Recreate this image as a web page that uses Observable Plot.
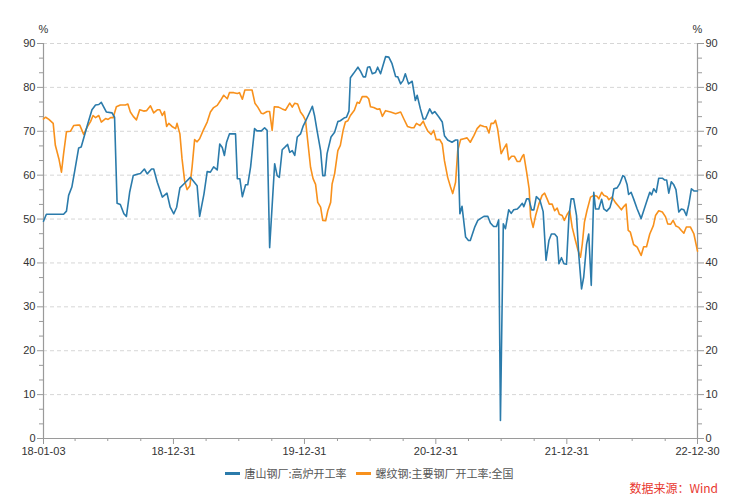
<!DOCTYPE html>
<html><head><meta charset="utf-8">
<script src="https://cdn.jsdelivr.net/npm/d3@7"></script>
<script src="https://cdn.jsdelivr.net/npm/@observablehq/plot@0.6"></script>
<style>
body{margin:0;background:#fff;font-family:"Liberation Sans",Arial,sans-serif;}
#wrap{position:relative;width:739px;height:500px;overflow:hidden;}
#legend{position:absolute;top:465px;left:0;width:739px;display:flex;justify-content:center;align-items:center;gap:10px;font-size:11px;color:#555;font-family:"Noto Sans CJK SC","Liberation Sans",sans-serif;}
#legend .item{display:flex;align-items:center;gap:4px;}
#legend .sw{display:inline-block;width:15px;height:3px;}
#source{position:absolute;top:479px;right:21px;color:#e8382f;font-size:12px;font-family:"Noto Sans CJK SC","Liberation Sans",sans-serif;}
</style></head>
<body><div id="wrap"><div id="chart"></div><div id="legend"></div><div id="source"></div></div>
<script>
const seriesNames = ["唐山钢厂:高炉开工率", "螺纹钢:主要钢厂开工率:全国"];
const seriesColors = ["#2b7bab", "#f8911c"];
const sourceText = "数据来源：Wind";
const unitLabel = "%";
const xTickDates = ["2018-01-03","2018-12-31","2019-12-31","2020-12-31","2021-12-31","2022-12-30"];
const yTicks = [0,10,20,30,40,50,60,70,80,90];

const blueDates = ["2018-01-03","2018-01-11","2018-02-28","2018-03-08","2018-03-14","2018-03-23","2018-03-31","2018-04-11","2018-04-18","2018-05-05","2018-05-18","2018-05-28","2018-06-06","2018-06-13","2018-06-27","2018-07-13","2018-07-20","2018-07-27","2018-08-05","2018-08-15","2018-08-22","2018-08-31","2018-09-10","2018-09-21","2018-09-30","2018-10-11","2018-10-19","2018-10-31","2018-11-06","2018-11-16","2018-11-30","2018-12-13","2018-12-22",
"2019-01-01","2019-01-09","2019-01-18","2019-01-29","2019-02-16","2019-03-07","2019-03-14","2019-03-26","2019-04-04","2019-04-13","2019-04-22","2019-05-02","2019-05-09","2019-05-16","2019-05-22","2019-05-28","2019-06-05","2019-06-17","2019-06-22","2019-06-27","2019-07-04","2019-07-11","2019-07-20","2019-07-26","2019-08-03","2019-08-14","2019-08-21","2019-09-02","2019-09-11","2019-09-18","2019-09-25","2019-10-09","2019-10-16","2019-10-22","2019-10-30","2019-11-08","2019-11-14","2019-11-20","2019-11-27","2019-12-04","2019-12-11","2019-12-20","2019-12-27",
"2020-01-06","2020-01-15","2020-01-22","2020-01-28","2020-02-04","2020-02-14","2020-02-20","2020-02-26","2020-03-03","2020-03-14","2020-03-24","2020-04-02","2020-04-09","2020-04-21","2020-04-26","2020-05-03","2020-05-07","2020-05-16","2020-05-28","2020-06-04","2020-06-12","2020-06-18","2020-06-24","2020-06-30","2020-07-07","2020-07-16","2020-07-22","2020-07-30","2020-08-13","2020-08-22","2020-08-31","2020-09-10","2020-09-16","2020-09-24","2020-10-01","2020-10-07","2020-10-16","2020-10-26","2020-11-04","2020-11-09","2020-11-18","2020-11-26","2020-12-02","2020-12-14","2020-12-21","2020-12-28",
"2021-01-08","2021-01-18","2021-01-24","2021-02-02","2021-02-14","2021-02-24","2021-03-02","2021-03-08","2021-03-14","2021-03-24","2021-04-01","2021-04-06","2021-04-18","2021-04-27","2021-05-04","2021-05-14","2021-05-25","2021-06-01","2021-06-10","2021-06-18","2021-06-24","2021-06-29","2021-07-07","2021-07-13","2021-07-22","2021-07-29","2021-08-05","2021-08-15","2021-08-22","2021-08-29","2021-09-02","2021-09-10","2021-09-16","2021-09-24","2021-09-30","2021-10-07","2021-10-17","2021-10-26","2021-11-03","2021-11-11","2021-11-18","2021-11-27","2021-12-04","2021-12-09","2021-12-16","2021-12-23","2021-12-30",
"2022-01-06","2022-01-12","2022-01-19","2022-01-27","2022-02-02","2022-02-10","2022-02-16","2022-02-24","2022-03-02","2022-03-09","2022-03-16","2022-03-21","2022-03-30","2022-04-07","2022-04-13","2022-04-21","2022-04-30","2022-05-06","2022-05-11","2022-05-20","2022-05-27","2022-06-05","2022-06-10","2022-06-17","2022-06-21","2022-06-28","2022-07-05","2022-07-15","2022-07-26","2022-08-02","2022-08-12","2022-08-19","2022-08-24","2022-08-30","2022-09-06","2022-09-13","2022-09-23","2022-09-29","2022-10-05","2022-10-11","2022-10-18","2022-10-25","2022-10-31","2022-11-08","2022-11-15","2022-11-22","2022-11-29","2022-12-06","2022-12-13","2022-12-20","2022-12-30"];
const blueValues = [49.5,51.1,51.1,51.8,55.4,57.3,61.0,66.2,66.4,71.3,74.9,76.0,76.1,76.6,74.4,74.2,73.2,53.6,53.3,51.2,50.6,56.1,59.9,60.2,60.4,61.4,60.3,61.4,61.4,58.4,55.0,55.9,52.7,
51.2,52.7,57.1,58.0,59.5,57.6,50.6,55.7,60.8,60.7,61.9,61.2,67.1,66.3,64.5,67.5,69.4,69.4,69.4,59.2,59.2,55.1,57.8,57.8,61.9,70.6,70.1,70.1,70.8,70.2,43.5,62.6,59.9,59.5,65.8,66.5,67.0,65.2,65.6,64.5,68.7,69.4,71.1,
72.8,74.4,75.7,73.6,70.2,65.6,59.9,59.9,64.9,68.7,69.8,72.2,72.4,73.1,73.2,74.6,82.2,83.2,84.6,83.7,82.4,82.4,84.6,84.7,83.1,83.4,84.6,83.1,87.0,86.9,85.4,82.5,82.4,80.8,81.6,83.1,80.8,81.4,77.0,78.2,75.1,72.8,72.8,75.1,74.0,74.5,
73.3,72.1,69.0,68.0,67.5,68.0,68.0,51.2,52.9,45.9,45.1,45.1,48.1,49.7,50.1,50.6,50.6,49.1,48.3,48.3,49.8,4.1,48.9,47.8,52.1,51.3,52.1,52.3,52.9,53.6,52.8,54.6,54.6,52.1,52.1,55.1,54.3,51.7,40.6,45.1,46.6,46.6,45.9,39.8,41.2,39.8,39.7,
50.8,54.6,54.6,50.8,42.1,34.1,36.8,44.3,46.6,34.9,56.1,52.3,52.3,54.5,52.3,51.8,52.6,54.4,56.9,57.1,58.0,59.9,59.6,57.8,55.6,56.1,54.6,52.3,50.1,51.9,54.4,56.1,55.5,56.9,56.1,59.3,59.3,58.9,58.9,55.9,58.5,57.8,56.7,51.6,52.3,52.1,50.8,53.4,56.9,56.4,56.4];

const orangeDates = ["2018-01-03","2018-01-09","2018-01-18","2018-01-30","2018-02-05","2018-02-15","2018-02-22","2018-02-28","2018-03-08","2018-03-19","2018-03-28","2018-04-09","2018-04-14","2018-04-25","2018-05-05","2018-05-14","2018-05-21","2018-05-28","2018-06-06","2018-06-13","2018-06-25","2018-07-02","2018-07-09","2018-07-16","2018-07-25","2018-08-05","2018-08-19","2018-08-26","2018-09-02","2018-09-10","2018-09-19","2018-09-28","2018-10-09","2018-10-17","2018-10-28","2018-11-06","2018-11-16","2018-11-23","2018-11-30","2018-12-06","2018-12-12","2018-12-18","2018-12-27",
"2019-01-06","2019-01-10","2019-01-18","2019-01-24","2019-01-31","2019-02-07","2019-02-15","2019-02-21","2019-02-28","2019-03-07","2019-03-14","2019-03-24","2019-04-04","2019-04-13","2019-04-22","2019-05-02","2019-05-11","2019-05-20","2019-05-30","2019-06-05","2019-06-17","2019-06-27","2019-07-03","2019-07-11","2019-07-18","2019-08-07","2019-08-15","2019-08-23","2019-09-02","2019-09-07","2019-09-18","2019-09-25","2019-10-02","2019-10-08","2019-10-20","2019-10-30","2019-11-08","2019-11-20","2019-11-27","2019-12-04","2019-12-12","2019-12-20","2019-12-27",
"2020-01-03","2020-01-09","2020-01-17","2020-01-24","2020-01-31","2020-02-06","2020-02-14","2020-02-20","2020-02-28","2020-03-05","2020-03-13","2020-03-17","2020-03-24","2020-04-02","2020-04-09","2020-04-17","2020-04-23","2020-04-30","2020-05-07","2020-05-18","2020-05-26","2020-06-01","2020-06-09","2020-06-21","2020-06-27","2020-07-02","2020-07-11","2020-07-21","2020-07-28","2020-08-04","2020-08-13","2020-08-27","2020-09-10","2020-09-24","2020-10-03","2020-10-13","2020-10-24","2020-10-31","2020-11-07","2020-11-17","2020-11-26","2020-12-02","2020-12-09","2020-12-18","2020-12-25",
"2021-01-01","2021-01-11","2021-01-18","2021-01-24","2021-02-02","2021-02-10","2021-02-16","2021-02-24","2021-03-02","2021-03-10","2021-03-19","2021-03-28","2021-04-06","2021-04-16","2021-04-25","2021-05-04","2021-05-14","2021-05-21","2021-05-28","2021-06-03","2021-06-10","2021-06-15","2021-06-21","2021-07-01","2021-07-08","2021-07-16","2021-07-22","2021-07-30","2021-08-07","2021-08-15","2021-08-22","2021-08-29","2021-09-02","2021-09-10","2021-09-17","2021-09-21","2021-09-28","2021-10-05","2021-10-14","2021-10-23","2021-10-30","2021-11-06","2021-11-12","2021-11-20","2021-11-27","2021-12-04","2021-12-10","2021-12-18","2021-12-24",
"2022-01-01","2022-01-08","2022-01-15","2022-01-24","2022-01-30","2022-02-07","2022-02-12","2022-02-18","2022-02-25","2022-03-07","2022-03-16","2022-03-25","2022-03-30","2022-04-07","2022-04-13","2022-04-22","2022-04-27","2022-05-06","2022-05-15","2022-05-24","2022-06-01","2022-06-08","2022-06-14","2022-06-20","2022-06-26","2022-07-05","2022-07-15","2022-07-26","2022-08-02","2022-08-10","2022-08-19","2022-08-29","2022-09-04","2022-09-13","2022-09-23","2022-10-02","2022-10-08","2022-10-16","2022-10-23","2022-10-31","2022-11-08","2022-11-15","2022-11-22","2022-11-29","2022-12-10","2022-12-20","2022-12-30"];
const orangeValues = [72.8,73.2,72.7,71.8,66.8,63.7,60.7,64.9,69.9,70.0,71.3,71.4,71.4,69.3,71.0,72.2,73.6,73.1,73.6,72.1,72.9,72.7,73.1,73.1,75.6,76.0,76.0,76.2,74.4,73.4,72.6,74.9,74.6,74.7,75.8,74.2,74.9,74.9,73.6,74.5,71.1,71.8,71.1,
70.6,71.8,69.4,63.7,58.8,56.7,57.6,61.9,68.1,67.6,68.3,70.2,72.1,74.4,75.4,75.9,77.0,78.2,77.4,78.8,78.8,78.6,78.8,77.3,79.4,79.4,76.4,75.5,74.1,74.0,74.5,74.5,70.2,75.6,75.5,75.1,74.8,76.4,75.5,76.4,76.2,74.4,73.6,
72.5,67.9,61.8,59.2,57.9,53.8,52.7,49.7,49.6,51.9,53.8,58.0,60.3,65.6,66.8,70.3,72.1,72.4,73.6,74.8,76.6,76.4,77.9,77.9,77.4,75.6,75.4,75.0,75.1,73.4,74.7,74.4,74.0,74.4,72.8,71.1,70.8,70.8,71.8,71.3,72.3,71.1,70.0,69.3,70.2,
68.1,68.1,67.1,63.3,59.5,57.3,55.8,58.4,65.6,68.1,68.3,68.5,67.5,69.0,70.6,71.4,71.1,71.0,69.6,71.8,71.8,72.5,70.6,64.9,66.0,67.1,63.5,64.3,64.3,63.1,63.1,64.3,64.7,60.7,56.9,50.5,48.1,50.8,53.4,55.4,55.9,54.6,53.4,53.4,51.9,52.5,51.1,50.8,49.7,
51.1,51.9,48.1,45.1,43.2,41.3,44.3,49.3,51.9,55.0,55.4,55.2,54.6,56.1,55.4,55.1,54.4,55.0,53.8,52.9,52.1,52.9,53.4,47.4,47.0,44.2,43.6,41.7,43.7,43.7,46.6,48.5,50.8,51.9,51.6,50.5,48.9,48.8,49.7,48.4,48.1,47.4,46.8,48.2,48.2,46.6,42.7];

const parse = d3.utcParse("%Y-%m-%d");
const blue = blueDates.map((d, i) => ({date: parse(d), value: blueValues[i]}));
const orange = orangeDates.map((d, i) => ({date: parse(d), value: orangeValues[i]}));
const xTicks = xTickDates.map(parse);
const xStart = xTicks[0], xEnd = xTicks[xTicks.length - 1];
// quarterly minor ticks (Apr, Jul, Oct)
const xMinor = d3.utcMonth.every(3).range(xStart, xEnd).filter(d => d.getUTCMonth() !== 0);
const yMinor = d3.range(0, 90.01, 10 / 3).filter(v => Math.abs(v / 10 - Math.round(v / 10)) > 0.01);

const axisColor = "#9a9a9a";
const chart = Plot.plot({
  width: 739, height: 462,
  marginTop: 43, marginBottom: 24, marginLeft: 43, marginRight: 42,
  style: {fontFamily: "'Liberation Sans', Arial, sans-serif", fontSize: "11px", color: "#333", background: "#fff"},
  x: {type: "utc", domain: [xStart, xEnd]},
  y: {domain: [0, 90]},
  marks: [
    Plot.gridY(yTicks.filter(v => v > 0), {stroke: "#d6d6d6", strokeOpacity: 1, strokeDasharray: "4,3"}),
    Plot.axisY(yTicks, {anchor: "left", tickSize: 6, tickPadding: 2, stroke: axisColor, label: null}),
    Plot.axisY(yMinor, {anchor: "left", tickSize: 4, tickFormat: () => "", stroke: axisColor, label: null}),
    Plot.axisY(yTicks, {anchor: "right", tickSize: 6, tickPadding: 2, stroke: axisColor, label: null}),
    Plot.axisY(yMinor, {anchor: "right", tickSize: 4, tickFormat: () => "", stroke: axisColor, label: null}),
    Plot.axisX(xTicks, {tickSize: 6, tickPadding: 3, tickFormat: d3.utcFormat("%y-%m-%d"), stroke: axisColor, label: null}),
    Plot.axisX(xMinor, {tickSize: 3, tickFormat: () => "", stroke: axisColor, label: null}),
    Plot.frame({anchor: "left", stroke: axisColor, strokeWidth: 1.2}),
    Plot.frame({anchor: "right", stroke: axisColor, strokeWidth: 1.2}),
    Plot.frame({anchor: "bottom", stroke: axisColor, strokeWidth: 1.2}),
    Plot.lineY(orange, {x: "date", y: "value", stroke: seriesColors[1], strokeWidth: 1.6}),
    Plot.lineY(blue, {x: "date", y: "value", stroke: seriesColors[0], strokeWidth: 1.6}),
    Plot.text([unitLabel], {frameAnchor: "top-left", dy: -18, textAnchor: "middle", fill: "#333"}),
    Plot.text([unitLabel], {frameAnchor: "top-right", dy: -18, textAnchor: "middle", fill: "#333"})
  ]
});
document.getElementById("chart").appendChild(chart);

const legend = document.getElementById("legend");
seriesNames.forEach((name, i) => {
  const item = document.createElement("span");
  item.className = "item";
  const sw = document.createElement("span");
  sw.className = "sw";
  sw.style.background = seriesColors[i];
  const label = document.createElement("span");
  label.textContent = name;
  item.appendChild(sw); item.appendChild(label);
  legend.appendChild(item);
});
document.getElementById("source").textContent = sourceText;
</script></body></html>
